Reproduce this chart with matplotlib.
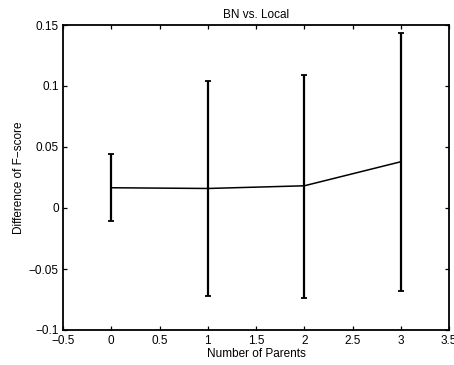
import matplotlib
matplotlib.use("Agg")
import matplotlib.pyplot as plt

# Mean difference of F-score (BN minus Local) by number of parents
parents = [0, 1, 2, 3]
mean_diff = [0.0166, 0.0160, 0.0182, 0.0379]
err_low = [-0.0110, -0.0723, -0.0736, -0.0679]
err_high = [0.0444, 0.1040, 0.1094, 0.1433]

xticks = [-0.5, 0, 0.5, 1, 1.5, 2, 2.5, 3, 3.5]
yticks = [-0.1, -0.05, 0, 0.05, 0.1, 0.15]


def fmt(t):
    return f"{t:g}".replace("-", "\u2212")


plt.rcParams["font.family"] = ["Liberation Sans", "DejaVu Sans"]
plt.rcParams["font.size"] = 8.5

fig = plt.figure(figsize=(4.54, 3.65), dpi=100)
ax = fig.add_axes([63 / 454, 1 - 330 / 365, (449 - 63) / 454, (330 - 25) / 365])

lower = [m - lo for m, lo in zip(mean_diff, err_low)]
upper = [hi - m for m, hi in zip(mean_diff, err_high)]
ax.plot(parents, mean_diff, color="black", lw=1.1)
ax.errorbar(parents, mean_diff, yerr=[lower, upper], fmt="none",
            ecolor="black", elinewidth=1.6, capsize=2.5, capthick=1.3)

ax.set_xlim(-0.5, 3.5)
ax.set_ylim(-0.1, 0.15)
ax.set_xticks(xticks)
ax.set_xticklabels([fmt(t) for t in xticks])
ax.set_yticks(yticks)
ax.set_yticklabels([fmt(t) for t in yticks])
ax.tick_params(direction="in", top=True, right=True, length=3, width=0.9)
ax.tick_params(axis="x", pad=3.5)
ax.tick_params(axis="y", pad=3)
for s in ax.spines.values():
    s.set_linewidth(1.3)

ax.set_title("BN vs. Local", fontsize=8.5, pad=5)
ax.set_xlabel("Number of Parents", fontsize=8.5, labelpad=1)
ax.set_ylabel("Difference of F\u2212score", fontsize=8.5, labelpad=3)

fig.savefig("out.png", dpi=100)
